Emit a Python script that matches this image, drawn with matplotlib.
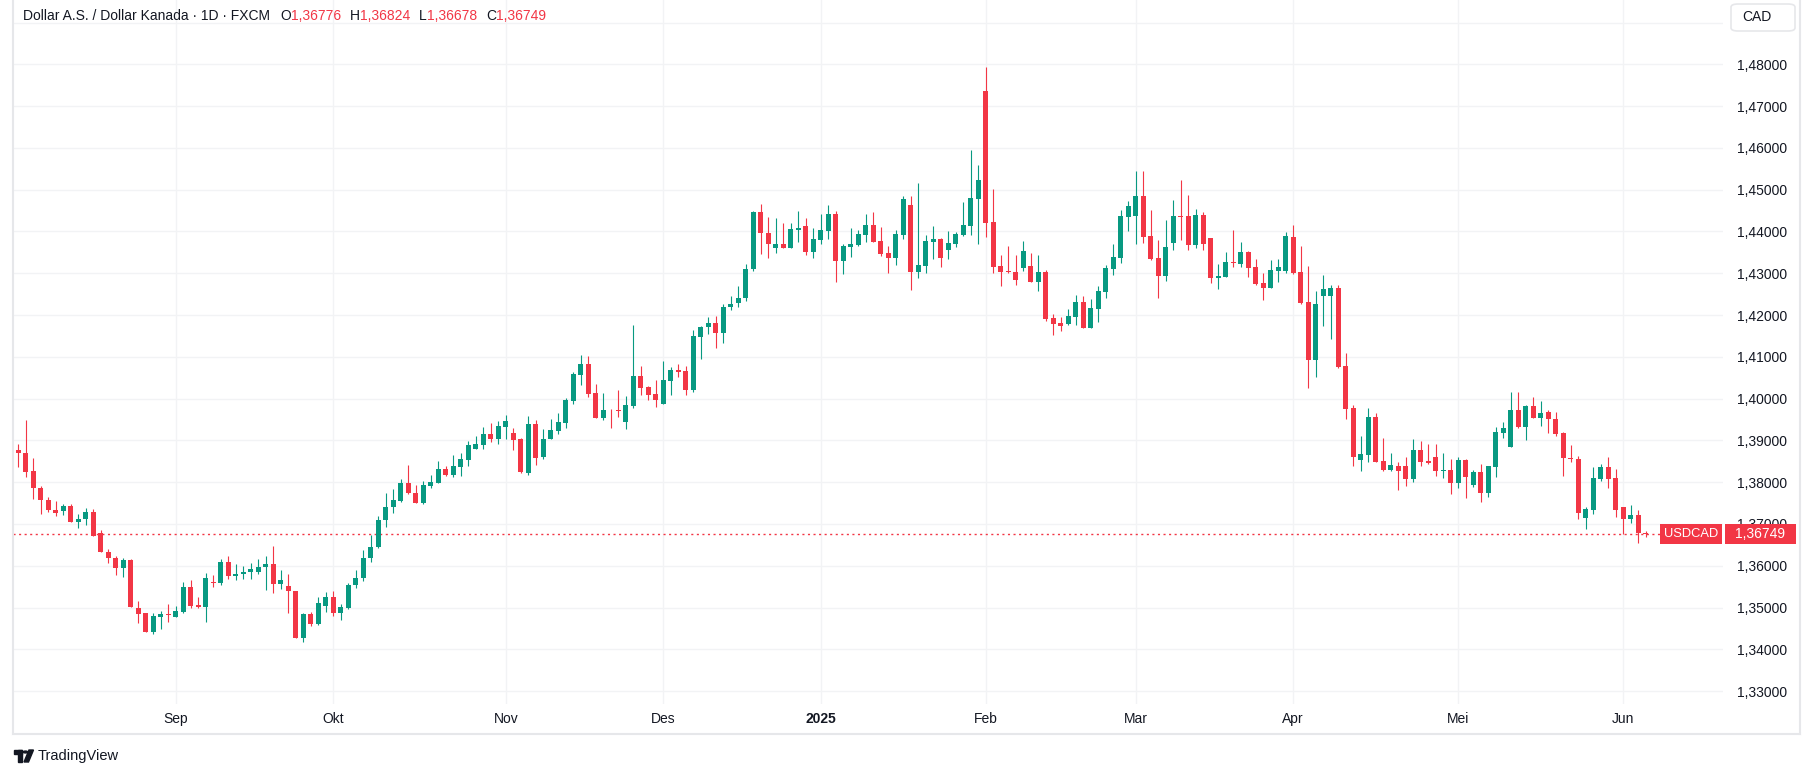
import numpy as np
import pandas as pd
import matplotlib
matplotlib.use("Agg")
import matplotlib.pyplot as plt
import matplotlib.transforms as mtransforms
from matplotlib.patches import Rectangle, FancyBboxPatch, Circle, Polygon
from matplotlib.lines import Line2D

plt.rcParams['font.family'] = ['Liberation Sans', 'DejaVu Sans']

# daily USDCAD candles, 2024-08-02 .. 2025-06-05 (no bars on Dec 25 / Jan 1)
dates = pd.bdate_range("2024-08-02", "2025-06-05")
dates = dates.drop(pd.to_datetime(["2024-12-25", "2025-01-01"]))

opens = [
    1.38760, 1.38688, 1.38256, 1.37872, 1.37584, 1.37344, 1.37304, 1.37440, 1.37040, 1.37112,
    1.37296, 1.36784, 1.36336, 1.36192, 1.35936, 1.36144, 1.34992, 1.34872, 1.34424, 1.34784,
    1.34840, 1.34784, 1.34904, 1.35496, 1.35064, 1.35024, 1.35600, 1.35576, 1.36096, 1.35744,
    1.35792, 1.35840, 1.35840, 1.35960, 1.36048, 1.35552, 1.35520, 1.35400, 1.34280, 1.34848,
    1.34616, 1.35048, 1.35256, 1.34880, 1.35000, 1.35528, 1.35696, 1.36176, 1.36440, 1.37088,
    1.37400, 1.37544, 1.37968, 1.37752, 1.37496, 1.37920, 1.37968, 1.38304, 1.38160, 1.38352,
    1.38520, 1.38784, 1.38880, 1.39144, 1.39024, 1.39312, 1.39168, 1.39024, 1.38224, 1.39392,
    1.38592, 1.39040, 1.39232, 1.39424, 1.39952, 1.40576, 1.40832, 1.40136, 1.39544, 1.39736,
    1.39736, 1.39448, 1.39832, 1.40544, 1.40280, 1.40112, 1.39880, 1.40432, 1.40688, 1.40664,
    1.40216, 1.41464, 1.41704, 1.41816, 1.41560, 1.42184, 1.42280, 1.42400, 1.43096, 1.44472,
    1.43968, 1.43594, 1.43705, 1.43610, 1.44040, 1.44135, 1.43514, 1.43801, 1.44016, 1.44422,
    1.43299, 1.43633, 1.43681, 1.43920, 1.44159, 1.43777, 1.43490, 1.43370, 1.43920, 1.44637,
    1.43036, 1.43179, 1.43753, 1.43825, 1.43562, 1.43705, 1.43920, 1.44135, 1.44781, 1.47363,
    1.44231, 1.43179, 1.43060, 1.43036, 1.43131, 1.43164, 1.42789, 1.43021, 1.41920, 1.41800,
    1.41784, 1.41951, 1.42302, 1.41688, 1.42143, 1.42550, 1.43100, 1.43364, 1.44346, 1.44370,
    1.44840, 1.43883, 1.43356, 1.42933, 1.43723, 1.44362, 1.44362, 1.43675, 1.44385, 1.43835,
    1.42885, 1.42909, 1.43260, 1.43220, 1.43500, 1.43148, 1.42765, 1.42646, 1.43053, 1.43053,
    1.43865, 1.43028, 1.42311, 1.40932, 1.42462, 1.42462, 1.42645, 1.40781, 1.39777, 1.38542,
    1.38661, 1.39562, 1.38510, 1.38303, 1.38390, 1.38390, 1.38064, 1.38773, 1.38510, 1.38606,
    1.38279, 1.38303, 1.37968, 1.38534, 1.37944, 1.38247, 1.37729, 1.38351, 1.39179, 1.38853,
    1.39729, 1.39323, 1.39825, 1.39538, 1.39689, 1.39522, 1.39171, 1.38590, 1.38566, 1.37139,
    1.37331, 1.38072, 1.38351, 1.38088, 1.37402, 1.37116, 1.37211, 1.36776,
]
highs = [
    1.38904, 1.39480, 1.38568, 1.37912, 1.37656, 1.37560, 1.37488, 1.37488, 1.37248, 1.37392,
    1.37368, 1.36864, 1.36400, 1.36240, 1.36192, 1.36168, 1.35160, 1.34872, 1.34872, 1.34920,
    1.35088, 1.35040, 1.35616, 1.35664, 1.35256, 1.35832, 1.35784, 1.36168, 1.36240, 1.36048,
    1.36000, 1.36072, 1.36168, 1.36240, 1.36480, 1.35904, 1.35808, 1.35400, 1.34864, 1.34896,
    1.35248, 1.35376, 1.35400, 1.35088, 1.35592, 1.35896, 1.36384, 1.36744, 1.37200, 1.37752,
    1.37848, 1.38064, 1.38400, 1.37944, 1.38016, 1.38160, 1.38496, 1.38376, 1.38640, 1.38688,
    1.38976, 1.39096, 1.39312, 1.39408, 1.39456, 1.39600, 1.39288, 1.39048, 1.39584, 1.39488,
    1.39272, 1.39512, 1.39656, 1.40016, 1.40640, 1.41048, 1.41024, 1.40352, 1.40136, 1.39752,
    1.40208, 1.40064, 1.41768, 1.40784, 1.40304, 1.40448, 1.40904, 1.40760, 1.40832, 1.40784,
    1.41648, 1.41744, 1.41960, 1.41984, 1.42272, 1.42464, 1.42704, 1.43232, 1.44496, 1.44664,
    1.44352, 1.44327, 1.44207, 1.44207, 1.44494, 1.44327, 1.44088, 1.44422, 1.44637, 1.44494,
    1.43705, 1.44088, 1.44040, 1.44422, 1.44470, 1.44112, 1.43657, 1.44040, 1.44853, 1.44853,
    1.45163, 1.43920, 1.44135, 1.43849, 1.44016, 1.43992, 1.44709, 1.45952, 1.45594, 1.47936,
    1.45020, 1.43442, 1.43657, 1.43442, 1.43777, 1.43476, 1.43428, 1.43069, 1.42015, 1.41943,
    1.42135, 1.42470, 1.42446, 1.42374, 1.42686, 1.43188, 1.43691, 1.44505, 1.44721, 1.45439,
    1.45439, 1.44505, 1.43787, 1.44266, 1.44745, 1.45223, 1.44864, 1.44529, 1.44457, 1.43835,
    1.43212, 1.43500, 1.44026, 1.43739, 1.43524, 1.43332, 1.42997, 1.43308, 1.43332, 1.43978,
    1.44151, 1.43649, 1.43171, 1.42574, 1.42956, 1.42717, 1.42717, 1.41092, 1.39849, 1.39108,
    1.39777, 1.39657, 1.39060, 1.38701, 1.38486, 1.38606, 1.39036, 1.38988, 1.38916, 1.38916,
    1.38701, 1.38558, 1.38606, 1.38566, 1.38303, 1.38446, 1.38398, 1.39323, 1.39442, 1.40159,
    1.40159, 1.39849, 1.40040, 1.39944, 1.39737, 1.39689, 1.39195, 1.38900, 1.38637, 1.37402,
    1.38351, 1.38438, 1.38614, 1.38311, 1.37402, 1.37450, 1.37323, 1.36824,
]
lows = [
    1.38360, 1.38120, 1.37592, 1.37232, 1.37280, 1.37184, 1.37208, 1.37040, 1.36896, 1.36968,
    1.36704, 1.36320, 1.36056, 1.35768, 1.35720, 1.35008, 1.34640, 1.34424, 1.34376, 1.34496,
    1.34664, 1.34784, 1.34880, 1.35000, 1.35000, 1.34664, 1.35480, 1.35528, 1.35672, 1.35648,
    1.35672, 1.35672, 1.35792, 1.35408, 1.35336, 1.35432, 1.34880, 1.34280, 1.34184, 1.34568,
    1.34592, 1.34904, 1.34808, 1.34712, 1.34960, 1.35456, 1.35640, 1.36100, 1.36424, 1.36920,
    1.37256, 1.37520, 1.37712, 1.37496, 1.37472, 1.37856, 1.37968, 1.38136, 1.38112, 1.38136,
    1.38376, 1.38784, 1.38784, 1.38952, 1.38904, 1.39024, 1.38760, 1.38224, 1.38176, 1.38416,
    1.38544, 1.39040, 1.39160, 1.39304, 1.39880, 1.40336, 1.40048, 1.39544, 1.39496, 1.39304,
    1.39568, 1.39280, 1.39784, 1.40088, 1.39976, 1.39808, 1.39864, 1.40096, 1.40528, 1.40096,
    1.40168, 1.40936, 1.41552, 1.41200, 1.41320, 1.42112, 1.42184, 1.42328, 1.43048, 1.43456,
    1.43355, 1.43490, 1.43610, 1.43610, 1.43753, 1.43442, 1.43370, 1.43705, 1.43825, 1.42797,
    1.42988, 1.43394, 1.43657, 1.43753, 1.43753, 1.43418, 1.43012, 1.43203, 1.43825, 1.42606,
    1.42892, 1.43012, 1.43347, 1.43155, 1.43347, 1.43633, 1.43896, 1.43920, 1.43705, 1.43873,
    1.43012, 1.42701, 1.43012, 1.42725, 1.43060, 1.42789, 1.42574, 1.41856, 1.41520, 1.41616,
    1.41760, 1.41760, 1.41688, 1.41688, 1.41832, 1.42406, 1.42957, 1.43244, 1.44010, 1.43699,
    1.43723, 1.43316, 1.42406, 1.42813, 1.43555, 1.43795, 1.43555, 1.43603, 1.43555, 1.42765,
    1.42622, 1.42909, 1.43148, 1.43148, 1.42909, 1.42717, 1.42358, 1.42646, 1.42789, 1.43005,
    1.42988, 1.42271, 1.40263, 1.40526, 1.41745, 1.41434, 1.40741, 1.39522, 1.38398, 1.38279,
    1.38494, 1.38494, 1.38279, 1.38279, 1.37801, 1.37920, 1.37992, 1.38398, 1.38446, 1.38159,
    1.38088, 1.37705, 1.37849, 1.37610, 1.37873, 1.37514, 1.37633, 1.38135, 1.39060, 1.38853,
    1.39299, 1.39020, 1.39538, 1.39347, 1.39171, 1.39100, 1.38143, 1.38478, 1.37116, 1.36876,
    1.37235, 1.38032, 1.37857, 1.37163, 1.36757, 1.37020, 1.36542, 1.36678,
]
closes = [
    1.38696, 1.38240, 1.37856, 1.37568, 1.37328, 1.37256, 1.37440, 1.37040, 1.37120, 1.37296,
    1.36704, 1.36320, 1.36176, 1.35936, 1.36144, 1.35024, 1.34856, 1.34424, 1.34800, 1.34848,
    1.34824, 1.34920, 1.35496, 1.35048, 1.35024, 1.35712, 1.35584, 1.36096, 1.35744, 1.35808,
    1.35840, 1.35928, 1.35976, 1.36048, 1.35552, 1.35664, 1.35384, 1.34280, 1.34848, 1.34616,
    1.35112, 1.35256, 1.34880, 1.35008, 1.35544, 1.35712, 1.36192, 1.36456, 1.37104, 1.37416,
    1.37584, 1.37968, 1.37736, 1.37496, 1.37944, 1.37992, 1.38304, 1.38160, 1.38376, 1.38544,
    1.38880, 1.38904, 1.39144, 1.39024, 1.39336, 1.39456, 1.39000, 1.38232, 1.39392, 1.38584,
    1.39032, 1.39248, 1.39440, 1.39968, 1.40592, 1.40832, 1.40120, 1.39544, 1.39728, 1.39720,
    1.39712, 1.39848, 1.40544, 1.40264, 1.40088, 1.39976, 1.40448, 1.40688, 1.40648, 1.40216,
    1.41504, 1.41720, 1.41816, 1.41560, 1.42200, 1.42272, 1.42416, 1.43112, 1.44472, 1.43968,
    1.43689, 1.43705, 1.43610, 1.44064, 1.44088, 1.43514, 1.43825, 1.44040, 1.44422, 1.43299,
    1.43657, 1.43705, 1.43944, 1.44159, 1.43753, 1.43466, 1.43370, 1.43944, 1.44781, 1.43036,
    1.43203, 1.43777, 1.43825, 1.43370, 1.43729, 1.43944, 1.44159, 1.44805, 1.45235, 1.44207,
    1.43155, 1.43036, 1.43036, 1.42845, 1.43538, 1.42789, 1.43021, 1.41903, 1.41784, 1.41736,
    1.41967, 1.42302, 1.41688, 1.42159, 1.42566, 1.43117, 1.43380, 1.44362, 1.44601, 1.44840,
    1.43867, 1.43340, 1.42933, 1.43619, 1.44362, 1.44346, 1.43675, 1.44385, 1.43699, 1.42885,
    1.42933, 1.43260, 1.43244, 1.43500, 1.43124, 1.42741, 1.42646, 1.43069, 1.43140, 1.43883,
    1.43012, 1.42295, 1.40932, 1.42263, 1.42622, 1.42645, 1.40765, 1.39761, 1.38614, 1.38685,
    1.39562, 1.38494, 1.38303, 1.38414, 1.38279, 1.38064, 1.38773, 1.38494, 1.38470, 1.38279,
    1.38303, 1.37968, 1.38534, 1.38112, 1.38255, 1.37729, 1.38375, 1.39203, 1.39299, 1.39729,
    1.39323, 1.39825, 1.39538, 1.39657, 1.39506, 1.39147, 1.38574, 1.38550, 1.37259, 1.37347,
    1.38088, 1.38351, 1.38072, 1.37331, 1.37116, 1.37211, 1.36781, 1.36749,
]

month_labels = ["Sep", "Okt", "Nov", "Des", "2025", "Feb", "Mar", "Apr", "Mei", "Jun"]
price_ticks = [1.33, 1.34, 1.35, 1.36, 1.37, 1.38, 1.39, 1.40, 1.41, 1.42, 1.43, 1.44, 1.45, 1.46, 1.47, 1.48, 1.49]

GREEN = "#089981"
RED = "#F23645"
TEXT = "#131722"
GRID = "#f2f3f5"
BORDER = "#e6e7ea"

W, H = 1813, 778
fig = plt.figure(figsize=(W / 100, H / 100), dpi=100)


def fx(x):
    return x / W


def fy(y):
    return 1 - y / H


ax = fig.add_axes([fx(13), fy(704), fx(1723) - fx(13), fy(0) - fy(704)])

o = np.array(opens)
h = np.array(highs)
l = np.array(lows)
c = np.array(closes)
x = np.arange(len(o))
cols = np.where(c >= o, GREEN, RED)

ax.vlines(x, l, h, colors=cols, linewidth=0.8, zorder=2)
body_low = np.minimum(o, c)
body_h = np.maximum(np.abs(c - o), 0.00010)
ax.bar(x, body_h, bottom=body_low, width=0.66, color=cols, linewidth=0, zorder=3)

ax.set_xlim(-0.71, 227.3)
ax.set_ylim(1.32691, 1.49539)

# month ticks at the first bar of each month
per = dates.to_period("M")
first_idx = [i for i in range(1, len(per)) if per[i] != per[i - 1]]
ax.set_xticks(first_idx)
ax.set_xticklabels(month_labels)
for t in ax.get_xticklabels():
    if t.get_text() == "2025":
        t.set_fontweight("bold")

ax.yaxis.tick_right()
ax.set_yticks(price_ticks)
ax.set_yticklabels([("%.5f" % v).replace(".", ",") if v < 1.485 else "" for v in price_ticks])
ax.tick_params(axis="both", length=0, labelsize=10, colors=TEXT)
ax.tick_params(axis="y", pad=10)
ax.tick_params(axis="x", pad=6)
ax.grid(True, color=GRID, linewidth=1, zorder=0)
ax.set_axisbelow(True)
for s in ax.spines.values():
    s.set_visible(False)

# last price line and labels
last = closes[-1]
ax.axhline(last, xmin=0, xmax=(1660 - 13) / (1723 - 13), color=RED, linewidth=1,
           linestyle=(0, (1.5, 2.5)), zorder=1.8)
blend = mtransforms.blended_transform_factory(fig.transFigure, ax.transData)
box_h = 20 / 4178.6
ax.add_patch(Rectangle((fx(1660), last - box_h / 2), fx(1722) - fx(1660), box_h,
                       transform=blend, facecolor=RED, edgecolor="none", clip_on=False, zorder=10))
ax.add_patch(Rectangle((fx(1725), last - box_h / 2), fx(1796) - fx(1725), box_h,
                       transform=blend, facecolor=RED, edgecolor="none", clip_on=False, zorder=10))
ax.text(fx(1691), last, "USDCAD", transform=blend, color="white", fontsize=9.3,
        ha="center", va="center", clip_on=False, zorder=11)
ax.text(fx(1760), last, ("%.5f" % last).replace(".", ","), transform=blend, color="white",
        fontsize=10, ha="center", va="center", clip_on=False, zorder=11)

# currency box top right
fig.add_artist(FancyBboxPatch((fx(1731), fy(31)), fx(1795) - fx(1731), fy(4) - fy(31),
                              boxstyle="round,pad=0,rounding_size=0.004",
                              transform=fig.transFigure, facecolor="white",
                              edgecolor=BORDER, linewidth=1.2))
fig.text(fx(1742), fy(17), "CAD", color=TEXT, fontsize=10, va="center", ha="left")

# outer frame
fig.add_artist(Line2D([fx(13), fx(13)], [fy(0), fy(734)], color=BORDER, linewidth=1.5))
fig.add_artist(Line2D([fx(1800), fx(1800)], [fy(0), fy(734)], color=BORDER, linewidth=1.5))
fig.add_artist(Line2D([fx(13), fx(1800)], [fy(734), fy(734)], color=BORDER, linewidth=1.5))

# header legend
renderer = fig.canvas.get_renderer()
parts = [("Dollar A.S. / Dollar Kanada · 1D · FXCM", TEXT, 10),
         ("O", TEXT, 0), ("1,36776", RED, 9),
         ("H", TEXT, 0), ("1,36824", RED, 9),
         ("L", TEXT, 0), ("1,36678", RED, 9),
         ("C", TEXT, 0), ("1,36749", RED, 0)]
xpos = 23
for txt, col, gap in parts:
    t = fig.text(fx(xpos), fy(16), txt, color=col, fontsize=10, ha="left", va="center")
    bb = t.get_window_extent(renderer)
    xpos += bb.width + gap

# TradingView watermark
fig.add_artist(Rectangle((fx(14), fy(754)), fx(22) - fx(14), fy(750) - fy(754),
                         transform=fig.transFigure, color=TEXT))
fig.add_artist(Rectangle((fx(18), fy(762)), fx(22) - fx(18), fy(750) - fy(762),
                         transform=fig.transFigure, color=TEXT))
fig.add_artist(Circle((fx(25.5), fy(752)), 2.2 / W, transform=fig.transFigure, color=TEXT))
fig.add_artist(Polygon([(fx(24), fy(762)), (fx(28.5), fy(762)), (fx(33.5), fy(750)), (fx(29), fy(750))],
                       closed=True, transform=fig.transFigure, color=TEXT))
fig.text(fx(38), fy(756), "TradingView", color=TEXT, fontsize=10.5, ha="left", va="center")

fig.savefig("out.png", dpi=100)
